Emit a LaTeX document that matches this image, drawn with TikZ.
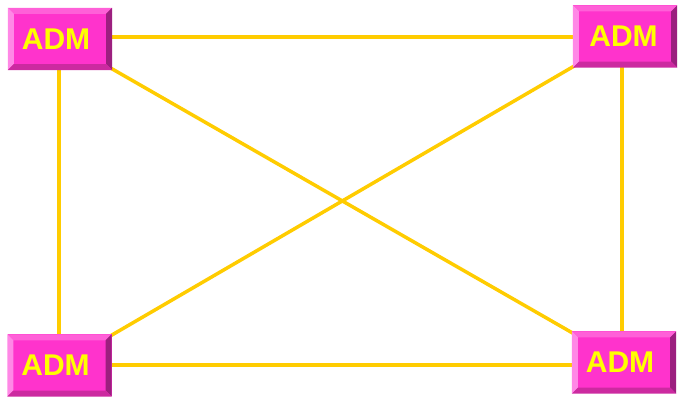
\documentclass[tikz,border=0pt]{standalone}
\usepackage{fontspec}
\setmainfont{Liberation Sans}
\usetikzlibrary{backgrounds}
\definecolor{admface}{HTML}{FF33CC}
\definecolor{admtop}{HTML}{FF60D8}
\definecolor{admleft}{HTML}{FF88E6}
\definecolor{admright}{HTML}{9C1F7F}
\definecolor{admbottom}{HTML}{CC2AA0}
\definecolor{admtext}{HTML}{FFFF00}
\definecolor{linkcol}{HTML}{FFCC00}
\tikzset{
  admbox/.style={rectangle, minimum width=104pt, minimum height=62pt, inner sep=0pt,
    fill=admface, text=admtext, font=\fontsize{30}{32}\selectfont\bfseries},
  link/.style={draw=linkcol, line width=3.5pt}
}
\newcommand{\bevel}[1]{%
  \fill[admtop] (#1.north west) -- (#1.north east) -- ([shift={(-6pt,-6pt)}]#1.north east) -- ([shift={(6pt,-6pt)}]#1.north west) -- cycle;
  \fill[admleft] (#1.north west) -- ([shift={(6pt,-6pt)}]#1.north west) -- ([shift={(6pt,6pt)}]#1.south west) -- (#1.south west) -- cycle;
  \fill[admright] (#1.north east) -- ([shift={(-6pt,-6pt)}]#1.north east) -- ([shift={(-6pt,6pt)}]#1.south east) -- (#1.south east) -- cycle;
  \fill[admbottom] (#1.south west) -- ([shift={(6pt,6pt)}]#1.south west) -- ([shift={(-6pt,6pt)}]#1.south east) -- (#1.south east) -- cycle;
}
\begin{document}
\begin{tikzpicture}[x=1pt,y=-1pt]
\useasboundingbox (0,0) rectangle (686,403);
\node[admbox] (tl) at (60,39) {\hspace*{-8pt}\raisebox{-1.5pt}{ADM}};
\node[admbox] (tr) at (625,36.5) {\hspace*{-3pt}\raisebox{-1.5pt}{ADM}};
\node[admbox] (bl) at (59.5,365.5) {\hspace*{-8pt}\raisebox{-2pt}{ADM}};
\node[admbox] (br) at (624,362.5) {\hspace*{-8pt}\raisebox{-2pt}{ADM}};
\bevel{tl}\bevel{tr}\bevel{bl}\bevel{br}
\begin{scope}[on background layer]
\fill[white] (0,0) rectangle (686,403);
\draw[link] ([yshift=2pt]tl.center) -- ([yshift=-0.5pt]tr.center);
\draw[link] ([yshift=0.5pt]bl.center) -- ([yshift=-2.5pt]br.center);
\draw[link] ([xshift=-1pt]tl.center) -- ([xshift=-0.5pt]bl.center);
\draw[link] ([xshift=-3pt]tr.center) -- ([xshift=-2pt]br.center);
\draw[link] (tl.center) -- (br.center);
\draw[link] (tr.center) -- (bl.center);
\end{scope}
\end{tikzpicture}
\end{document}
